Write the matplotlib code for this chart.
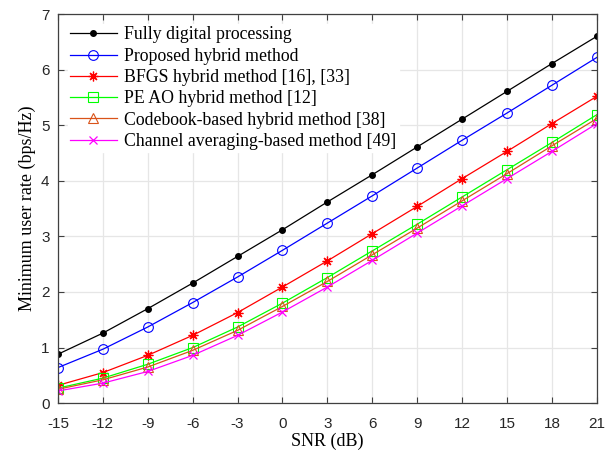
import matplotlib
matplotlib.use('Agg')
import matplotlib.pyplot as plt
import numpy as np

plt.rcParams['axes.unicode_minus'] = False

snr = [-15, -12, -9, -6, -3, 0, 3, 6, 9, 12, 15, 18, 21]

fully_digital = [0.88, 1.26, 1.70, 2.16, 2.64, 3.12, 3.62, 4.11, 4.61, 5.11, 5.61, 6.11, 6.60]
proposed = [0.64, 0.97, 1.37, 1.81, 2.27, 2.75, 3.24, 3.73, 4.23, 4.73, 5.22, 5.72, 6.22]
bfgs = [0.32, 0.55, 0.86, 1.22, 1.63, 2.09, 2.56, 3.05, 3.54, 4.04, 4.53, 5.03, 5.52]
pe_ao = [0.27, 0.45, 0.70, 1.00, 1.37, 1.80, 2.26, 2.74, 3.22, 3.71, 4.20, 4.69, 5.19]
codebook = [0.25, 0.42, 0.65, 0.95, 1.31, 1.74, 2.19, 2.67, 3.15, 3.64, 4.13, 4.63, 5.12]
chan_avg = [0.22, 0.36, 0.57, 0.86, 1.22, 1.64, 2.09, 2.57, 3.06, 3.55, 4.04, 4.53, 5.03]

labels = ['Fully digital processing',
          'Proposed hybrid method',
          'BFGS hybrid method [16], [33]',
          'PE AO hybrid method [12]',
          'Codebook-based hybrid method [38]',
          'Channel averaging-based method [49]']

serif = 'Liberation Serif'
sans = 'Liberation Sans'

fig = plt.figure(figsize=(6.16, 4.53), dpi=100)
ax = fig.add_axes([0.094, 0.110, 0.875, 0.859])

ax.plot(snr, fully_digital, color='k', lw=0.9, marker='o', ms=4, mfc='k', label=labels[0])
ax.plot(snr, proposed, color='b', lw=0.9, marker='o', ms=7, mfc='none', mew=0.8, label=labels[1])
ax.plot(snr, bfgs, color='r', lw=0.9, marker=(8, 2, 0), ms=7, mew=0.9, label=labels[2])
ax.plot(snr, pe_ao, color='#00ff00', lw=0.9, marker='s', ms=7, mfc='none', mew=0.8, label=labels[3])
ax.plot(snr, codebook, color='#D95319', lw=0.9, marker='^', ms=7, mfc='none', mew=0.8, label=labels[4])
ax.plot(snr, chan_avg, color='#ff00ff', lw=0.9, marker='x', ms=6, mew=0.9, label=labels[5])

ax.set_xlim(-15, 21)
ax.set_ylim(0, 7)
ax.set_xticks(snr)
ax.set_yticks(range(0, 8))
ax.grid(True, color='#e6e6e6', lw=0.9)
ax.set_axisbelow(True)
ax.tick_params(direction='in', top=True, right=True, length=4, color='#404040',
               labelsize=11, labelcolor='#262626')
ax.tick_params(axis='x', pad=10)
ax.tick_params(axis='y', pad=6)
for lab in ax.get_xticklabels() + ax.get_yticklabels():
    lab.set_fontfamily(sans)
for s in ax.spines.values():
    s.set_color('#404040')
    s.set_linewidth(0.9)

ax.set_xlabel('SNR (dB)', fontfamily=serif, fontsize=13, labelpad=1)
ax.set_ylabel('Minimum user rate (bps/Hz)', fontfamily=serif, fontsize=13)

leg = ax.legend(loc='upper left', prop={'family': serif, 'size': 12.8}, frameon=True,
                fancybox=False, edgecolor='white', framealpha=1, handlelength=2.6,
                handletextpad=0.4, labelspacing=0.24, borderaxespad=0.55, borderpad=0.15)

fig.savefig('out.png', dpi=100)
